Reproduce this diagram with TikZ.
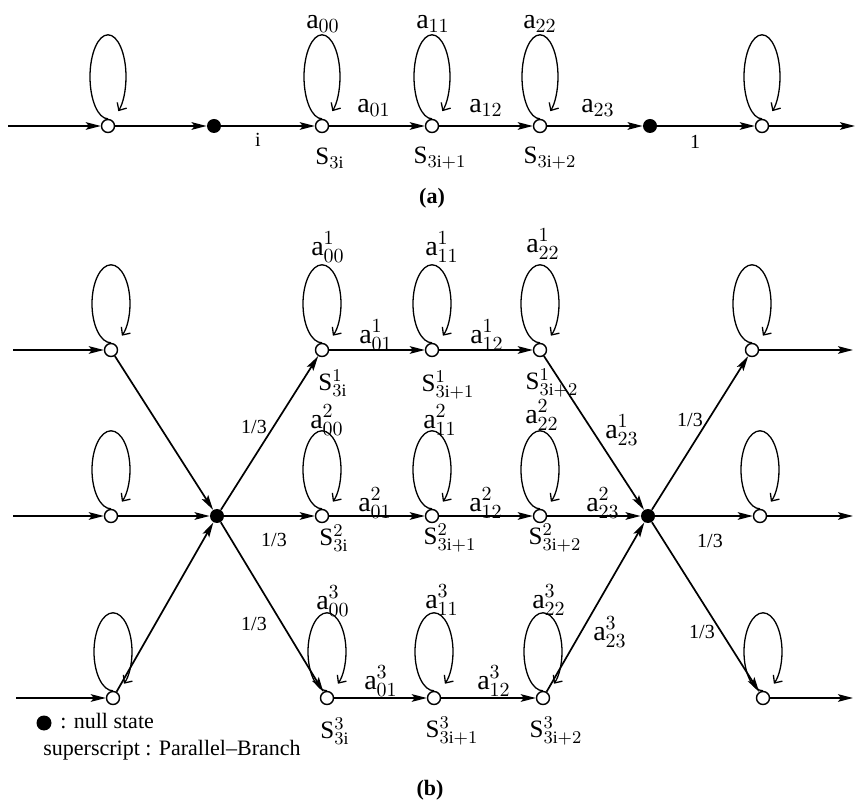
\documentclass[tikz,border=0pt]{standalone}
\usepackage{fontspec}
\setmainfont{Liberation Serif}
\usepackage{tikz}
\usetikzlibrary{arrows.meta}

\begin{document}
\begin{tikzpicture}[
            x=0.5pt, y=-0.5pt,
            state/.style={circle, draw, line width=0.7pt, fill=white, minimum size=6.5pt, inner sep=0pt},
            null/.style={circle, fill=black, minimum size=7pt, inner sep=0pt},
            line/.style={draw, line width=0.85pt, -{Stealth[length=7.5pt, width=3.8pt, inset=1.5pt]}},
            selfloop/.style={draw, line width=0.65pt, -{Straight Barb[length=3pt, width=5.5pt]}},
            alab/.style={font=\fontsize{14}{16}\selectfont, inner sep=0pt},
            slab/.style={font=\fontsize{12.5}{14}\selectfont, inner sep=0pt},
            plab/.style={font=\fontsize{10}{12}\selectfont, inner sep=0pt},
            caption/.style={font=\fontsize{11}{13}\selectfont\bfseries, inner sep=0pt}
        ]
        \useasboundingbox (0,0) rectangle (857,807);

        % (a) Single Branch
        \node [state] (aL) at (108,126) {};
        \node [null] (aN1) at (214,126) {};
        \node [state] (a0) at (322,126) {};
        \node [state] (a1) at (432,126) {};
        \node [state] (a2) at (540,126) {};
        \node [null] (aN2) at (650,126) {};
        \node [state] (aR) at (762,126) {};
        \coordinate (aIn) at (8,126);
        \coordinate (aOut) at (855,126);

        \path [line] (aIn) -- (aL);
        \path [line] (aL) -- (aN1);
        \path [line] (aN1) -- (a0);
        \path [line] (a0) -- (a1);
        \path [line] (a1) -- (a2);
        \path [line] (a2) -- (aN2);
        \path [line] (aN2) -- (aR);
        \path [line] (aR) -- (aOut);

        \foreach \n in {aL,a0,a1,a2,aR}
            \path [selfloop] (\n.north) arc[start angle=-90, end angle=-415, x radius=9pt, y radius=21pt];

        \node [alab] (la00) at (323,24) {$\mathrm{a}_{00}$};
        \node [alab] (la11) at (433,24) {$\mathrm{a}_{11}$};
        \node [alab] (la22) at (540,24) {$\mathrm{a}_{22}$};
        \node [alab] (la01) at (374,108) {$\mathrm{a}_{01}$};
        \node [alab] (la12) at (486,108) {$\mathrm{a}_{12}$};
        \node [alab] (la23) at (598,108) {$\mathrm{a}_{23}$};
        \node [plab] (lp1) at (258,140) {i};
        \node [plab] (lp2) at (695,142) {1};
        \node [slab] (ls0) at (330,158) {$\mathrm{S}_{3\mathrm{i}}$};
        \node [slab] (ls1) at (440,158) {$\mathrm{S}_{3\mathrm{i}+1}$};
        \node [slab] (ls2) at (550,158) {$\mathrm{S}_{3\mathrm{i}+2}$};
        \node [caption] (capa) at (432,198) {(a)};

        % (b) Parallel Branches
        \node [state] (bL1) at (111,350) {};
        \node [state] (bL2) at (111,516) {};
        \node [state] (bL3) at (113,698) {};
        \node [null] (bN1) at (217,516) {};
        \node [state] (b10) at (322,350) {};
        \node [state] (b11) at (432,350) {};
        \node [state] (b12) at (540,350) {};
        \node [state] (b20) at (322,516) {};
        \node [state] (b21) at (432,516) {};
        \node [state] (b22) at (540,516) {};
        \node [state] (b30) at (327,698) {};
        \node [state] (b31) at (434,698) {};
        \node [state] (b32) at (543,698) {};
        \node [null] (bN2) at (648,516) {};
        \node [state] (bR1) at (752,350) {};
        \node [state] (bR2) at (760,516) {};
        \node [state] (bR3) at (763,698) {};
        \coordinate (bIn1) at (13,350);
        \coordinate (bIn2) at (13,516);
        \coordinate (bIn3) at (16,698);
        \coordinate (bOut1) at (853,350);
        \coordinate (bOut2) at (853,516);
        \coordinate (bOut3) at (853,698);

        \path [line] (bIn1) -- (bL1);
        \path [line] (bIn2) -- (bL2);
        \path [line] (bIn3) -- (bL3);
        \path [line] (bL1) -- (bN1);
        \path [line] (bL2) -- (bN1);
        \path [line] (bL3) -- (bN1);
        \path [line] (bN1) -- (b10);
        \path [line] (bN1) -- (b20);
        \path [line] (bN1) -- (b30);
        \path [line] (b10) -- (b11);
        \path [line] (b11) -- (b12);
        \path [line] (b20) -- (b21);
        \path [line] (b21) -- (b22);
        \path [line] (b30) -- (b31);
        \path [line] (b31) -- (b32);
        \path [line] (b12) -- (bN2);
        \path [line] (b22) -- (bN2);
        \path [line] (b32) -- (bN2);
        \path [line] (bN2) -- (bR1);
        \path [line] (bN2) -- (bR2);
        \path [line] (bN2) -- (bR3);
        \path [line] (bR1) -- (bOut1);
        \path [line] (bR2) -- (bOut2);
        \path [line] (bR3) -- (bOut3);

        \foreach \n in {bL1,bL2,bL3,b10,b11,b12,b20,b21,b22,b30,b31,b32,bR1,bR2,bR3}
            \path [selfloop] (\n.north) arc[start angle=-90, end angle=-415, x radius=9.5pt, y radius=19.5pt];

        % Branch 1
        \node [alab] (lb100) at (328,247) {$\mathrm{a}^{1}_{00}$};
        \node [alab] (lb111) at (442,247) {$\mathrm{a}^{1}_{11}$};
        \node [alab] (lb122) at (543,244) {$\mathrm{a}^{1}_{22}$};
        \node [alab] (lb101) at (376,335) {$\mathrm{a}^{1}_{01}$};
        \node [alab] (lb112) at (487,335) {$\mathrm{a}^{1}_{12}$};
        \node [alab] (lb123) at (622,430) {$\mathrm{a}^{1}_{23}$};
        \node [slab] (ls10) at (333,383) {$\mathrm{S}^{1}_{3\mathrm{i}}$};
        \node [slab] (ls11) at (448,385) {$\mathrm{S}^{1}_{3\mathrm{i}+1}$};
        \node [slab] (ls12) at (552,383) {$\mathrm{S}^{1}_{3\mathrm{i}+2}$};

        % Branch 2
        \node [alab] (lb200) at (327,420) {$\mathrm{a}^{2}_{00}$};
        \node [alab] (lb211) at (440,420) {$\mathrm{a}^{2}_{11}$};
        \node [alab] (lb222) at (542,415) {$\mathrm{a}^{2}_{22}$};
        \node [alab] (lb201) at (375,503) {$\mathrm{a}^{2}_{01}$};
        \node [alab] (lb212) at (486,503) {$\mathrm{a}^{2}_{12}$};
        \node [alab] (lb223) at (603,503) {$\mathrm{a}^{2}_{23}$};
        \node [slab] (ls20) at (334,538) {$\mathrm{S}^{2}_{3\mathrm{i}}$};
        \node [slab] (ls21) at (450,538) {$\mathrm{S}^{2}_{3\mathrm{i}+1}$};
        \node [slab] (ls22) at (555,538) {$\mathrm{S}^{2}_{3\mathrm{i}+2}$};

        % Branch 3
        \node [alab] (lb300) at (333,601) {$\mathrm{a}^{3}_{00}$};
        \node [alab] (lb311) at (442,600) {$\mathrm{a}^{3}_{11}$};
        \node [alab] (lb322) at (549,600) {$\mathrm{a}^{3}_{22}$};
        \node [alab] (lb301) at (381,681) {$\mathrm{a}^{3}_{01}$};
        \node [alab] (lb312) at (494,681) {$\mathrm{a}^{3}_{12}$};
        \node [alab] (lb323) at (610,632) {$\mathrm{a}^{3}_{23}$};
        \node [slab] (ls30) at (335,731) {$\mathrm{S}^{3}_{3\mathrm{i}}$};
        \node [slab] (ls31) at (452,731) {$\mathrm{S}^{3}_{3\mathrm{i}+1}$};
        \node [slab] (ls32) at (556,731) {$\mathrm{S}^{3}_{3\mathrm{i}+2}$};

        % Branch weights
        \node [plab] (lw1) at (254,427) {1/3};
        \node [plab] (lw2) at (274,540) {1/3};
        \node [plab] (lw3) at (254,624) {1/3};
        \node [plab] (lw4) at (690,420) {1/3};
        \node [plab] (lw5) at (710,541) {1/3};
        \node [plab] (lw6) at (702,632) {1/3};

        % Legend
        \node [null, minimum size=7.5pt] (key) at (44,723) {};
        \node [anchor=west, inner sep=0pt, font=\fontsize{11}{13}\selectfont] (keytxt) at (60,721) {: null state};
        \node [anchor=west, inner sep=0pt, font=\fontsize{11}{13}\selectfont] (suptxt) at (43,750) {superscript : Parallel--Branch};
        \node [caption] (capb) at (430,790) {(b)};

    \end{tikzpicture}
\end{document}
